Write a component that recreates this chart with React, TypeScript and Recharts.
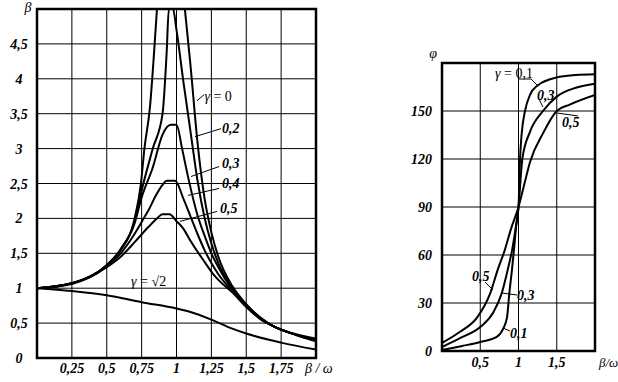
import React from 'react';
import {
    LineChart,
    Line,
    XAxis,
    YAxis,
    CartesianGrid,
    ReferenceArea,
    ReferenceLine,
    ReferenceDot
} from 'recharts';

type Pt = [number, number | null];

// left chart: beta against beta/omega, one curve per gamma
const betaXTicks = [0.25, 0.5, 0.75, 1, 1.25, 1.5, 1.75, 2];
const betaYTicks = [0, 0.5, 1, 1.5, 2, 2.5, 3, 3.5, 4, 4.5, 5];

const beta00: Pt[] = [[0, 1], [0.25, 1.07], [0.5, 1.33], [0.6, 1.56], [0.7, 2.0], [0.745, 2.5], [0.77, 3.0], [0.81, 3.6], [0.84, 4.4], [0.86, 5.0], [0.95, null], [1.06, 5.0], [1.1, 4.2], [1.15, 3.1], [1.2, 2.3], [1.25, 1.8], [1.3, 1.45], [1.4, 1.03], [1.5, 0.77], [1.6, 0.58], [1.7, 0.45], [1.8, 0.37], [1.9, 0.32], [2.0, 0.28]];
const beta02: Pt[] = [[0, 1], [0.25, 1.07], [0.5, 1.33], [0.6, 1.55], [0.7, 1.96], [0.75, 2.4], [0.83, 3.0], [0.9, 3.5], [0.93, 4.4], [0.945, 5.0], [0.975, 5.0], [1.0, 4.7], [1.05, 3.95], [1.1, 3.25], [1.15, 2.55], [1.2, 2.02], [1.25, 1.64], [1.3, 1.36], [1.4, 1.0], [1.5, 0.76], [1.6, 0.58], [1.7, 0.45], [1.8, 0.37], [1.9, 0.31], [2.0, 0.27]];
const beta03: Pt[] = [[0, 1], [0.25, 1.07], [0.5, 1.33], [0.6, 1.55], [0.7, 1.93], [0.75, 2.3], [0.83, 2.73], [0.9, 3.2], [0.96, 3.34], [1.0, 3.34], [1.04, 3.0], [1.08, 2.62], [1.15, 2.05], [1.2, 1.76], [1.25, 1.5], [1.3, 1.3], [1.4, 0.98], [1.5, 0.75], [1.6, 0.57], [1.7, 0.45], [1.8, 0.37], [1.9, 0.31], [2.0, 0.26]];
const beta04: Pt[] = [[0, 1], [0.25, 1.07], [0.5, 1.32], [0.6, 1.5], [0.7, 1.78], [0.75, 1.95], [0.8, 2.12], [0.85, 2.32], [0.9, 2.48], [0.93, 2.54], [0.99, 2.54], [1.05, 2.28], [1.1, 2.03], [1.15, 1.78], [1.2, 1.55], [1.25, 1.36], [1.3, 1.2], [1.4, 0.96], [1.5, 0.74], [1.6, 0.56], [1.7, 0.45], [1.8, 0.37], [1.9, 0.3], [2.0, 0.25]];
const beta05: Pt[] = [[0, 1], [0.25, 1.06], [0.5, 1.3], [0.6, 1.45], [0.7, 1.66], [0.8, 1.88], [0.86, 2.0], [0.9, 2.06], [0.95, 2.06], [1.0, 1.96], [1.05, 1.85], [1.1, 1.68], [1.2, 1.38], [1.26, 1.21], [1.3, 1.12], [1.4, 0.94], [1.5, 0.73], [1.6, 0.56], [1.7, 0.45], [1.8, 0.37], [1.9, 0.3], [2.0, 0.24]];
const betaSqrt2: Pt[] = [[0, 1], [0.25, 0.96], [0.5, 0.9], [0.75, 0.8], [1.0, 0.71], [1.1, 0.66], [1.25, 0.55], [1.4, 0.42], [1.5, 0.35], [1.75, 0.22], [2.0, 0.12]];

// right chart: phase angle phi
const phiXTicks = [0.5, 1, 1.5, 2];
const phiYTicks = [0, 30, 60, 90, 120, 150, 180];

const phi01: Pt[] = [[0, 0.6], [0.25, 3], [0.5, 5.6], [0.72, 9], [0.8, 14], [0.85, 21], [0.88, 36], [0.915, 51], [0.94, 63], [0.97, 78], [1.0, 90], [1.02, 120], [1.04, 135], [1.085, 150], [1.15, 160], [1.25, 166], [1.5, 171], [1.75, 172.5], [2.0, 173]];
const phi03: Pt[] = [[0, 2.5], [0.235, 8], [0.5, 15], [0.67, 24], [0.78, 36], [0.86, 51], [0.92, 64], [0.96, 76], [1.0, 90], [1.05, 120], [1.15, 137], [1.32, 150], [1.5, 159], [1.75, 164.5], [2.0, 167]];
const phi05: Pt[] = [[0, 5], [0.235, 12], [0.46, 21], [0.63, 36], [0.73, 51], [0.82, 63], [0.9, 76], [1.0, 90], [1.08, 105], [1.15, 118], [1.32, 136], [1.5, 150], [1.67, 154], [2.0, 160]];

const serif = '"Liberation Serif", "Times New Roman", serif';
const toRows = (pts: Pt[]) => pts.map(([x, y]) => ({ x, y }));
const fmt = (v: number) => String(v).replace('.', ',');

const numStyle: React.CSSProperties = { fontFamily: serif, fontSize: 14, fontWeight: 700, fontStyle: 'italic' };
const plainStyle: React.CSSProperties = { fontFamily: serif, fontSize: 14, fontWeight: 400, fontStyle: 'normal' };
const italicStyle: React.CSSProperties = { ...plainStyle, fontStyle: 'italic' };

function BetaXTick({ x, y, payload }: any) {
    if (payload.value === 2) {
        return <text x={x - 11} y={y + 15} style={italicStyle}>β / ω</text>;
    }
    return <text x={x} y={y + 15} textAnchor="middle" style={numStyle}>{fmt(payload.value)}</text>;
}

function BetaYTick({ x, y, payload }: any) {
    if (payload.value === 5) {
        return <text x={x - 9} y={y + 3} textAnchor="middle" style={italicStyle}>β</text>;
    }
    return <text x={x - 18} y={y + 5} textAnchor="middle" style={numStyle}>{fmt(payload.value)}</text>;
}

function PhiXTick({ x, y, payload }: any) {
    if (payload.value === 2) {
        return <text x={x + 4} y={y + 16} style={{ ...italicStyle, fontSize: 13 }}>β/ω</text>;
    }
    return <text x={x} y={y + 16} textAnchor="middle" style={numStyle}>{fmt(payload.value)}</text>;
}

function PhiYTick({ x, y, payload }: any) {
    if (payload.value === 180) {
        return <text x={x - 9} y={y - 5} textAnchor="middle" style={italicStyle}>φ</text>;
    }
    return <text x={x - 10} y={y + 5} textAnchor="end" style={numStyle}>{payload.value}</text>;
}

// text placed at a data point (left end of the baseline)
function note(x: number, y: number, content: React.ReactNode, bold = true) {
    return (
        <ReferenceDot
            x={x}
            y={y}
            r={0}
            ifOverflow="visible"
            shape={(p: any) => (
                <text x={p.cx} y={p.cy} style={bold ? numStyle : plainStyle}>{content}</text>
            )}
        />
    );
}

function pointer(x1: number, y1: number, x2: number, y2: number) {
    return <ReferenceLine segment={[{ x: x1, y: y1 }, { x: x2, y: y2 }]} stroke="#000" strokeWidth={1} ifOverflow="visible" />;
}

function curve(pts: Pt[], key: string) {
    return (
        <Line
            key={key}
            data={toRows(pts)}
            dataKey="y"
            type="monotone"
            stroke="#000"
            strokeWidth={2}
            dot={false}
            isAnimationActive={false}
        />
    );
}

export default function App() {
    return (
        <div style={{ position: 'absolute', left: 0, top: 0, width: 618, height: 382, background: '#fff' }}>
            <LineChart width={400} height={382} margin={{ top: 9, right: 84, bottom: 0, left: 0 }} style={{ position: 'absolute', left: 0, top: 0 }}>
                <CartesianGrid stroke="#000" strokeWidth={1} />
                <XAxis type="number" dataKey="x" domain={[0, 2]} ticks={betaXTicks} height={24} axisLine={false} tickLine={false} tickSize={0} tickMargin={0} tick={<BetaXTick />} allowDataOverflow />
                <YAxis type="number" domain={[0, 5]} ticks={betaYTicks} width={37} axisLine={false} tickLine={false} tickSize={0} tickMargin={0} tick={<BetaYTick />} allowDataOverflow />
                <ReferenceArea x1={0} x2={2} y1={0} y2={5} fill="none" stroke="#000" strokeWidth={2.5} />
                {curve(beta00, 'b0')}
                {curve(beta02, 'b2')}
                {curve(beta03, 'b3')}
                {curve(beta04, 'b4')}
                {curve(beta05, 'b5')}
                {curve(betaSqrt2, 'bs')}
                {pointer(1.147, 3.686, 1.197, 3.771)}
                {pointer(1.133, 3.171, 1.319, 3.286)}
                {pointer(1.104, 2.6, 1.305, 2.743)}
                {pointer(1.082, 2.329, 1.305, 2.429)}
                {pointer(1.025, 1.957, 1.29, 2.1)}
                {note(1.2, 3.686, <><tspan style={{ fontStyle: 'italic' }}>γ</tspan> = 0</>, false)}
                {note(1.326, 3.229, '0,2')}
                {note(1.326, 2.729, '0,3')}
                {note(1.326, 2.429, '0,4')}
                {note(1.312, 2.071, '0,5')}
                {note(0.674, 1.029, <><tspan style={{ fontStyle: 'italic' }}>γ</tspan> = √2</>, false)}
            </LineChart>

            <LineChart width={218} height={382} margin={{ top: 63, right: 23, bottom: 0, left: 0 }} style={{ position: 'absolute', left: 400, top: 0 }}>
                <CartesianGrid stroke="#000" strokeWidth={1} />
                <XAxis type="number" dataKey="x" domain={[0, 2]} ticks={phiXTicks} height={31} axisLine={false} tickLine={false} tickSize={0} tickMargin={0} tick={<PhiXTick />} allowDataOverflow />
                <YAxis type="number" domain={[0, 180]} ticks={phiYTicks} width={42} axisLine={false} tickLine={false} tickSize={0} tickMargin={0} tick={<PhiYTick />} allowDataOverflow />
                <ReferenceArea x1={0} x2={2} y1={0} y2={180} fill="none" stroke="#000" strokeWidth={2.5} />
                {curve(phi01, 'p1')}
                {curve(phi03, 'p3')}
                {curve(phi05, 'p5')}
                {pointer(1.0065, 170, 1.163, 170)}
                {pointer(1.163, 170, 1.242, 166.25)}
                {pointer(1.268, 157.5, 1.32, 152.5)}
                {pointer(1.503, 148.75, 1.778, 146.9)}
                {pointer(0.562, 43.1, 0.667, 38.1)}
                {pointer(0.784, 36.25, 0.98, 35)}
                {pointer(0.797, 14.4, 0.889, 12.5)}
                {note(0.693, 170.6, <><tspan style={{ fontStyle: 'italic' }}>γ</tspan> = 0,1</>, false)}
                {note(1.242, 156.9, '0,3')}
                {note(1.569, 140, '0,5')}
                {note(0.392, 43.75, '0,5')}
                {note(0.98, 31.9, '0,3')}
                {note(0.889, 8.1, '0,1')}
            </LineChart>
        </div>
    );
}
